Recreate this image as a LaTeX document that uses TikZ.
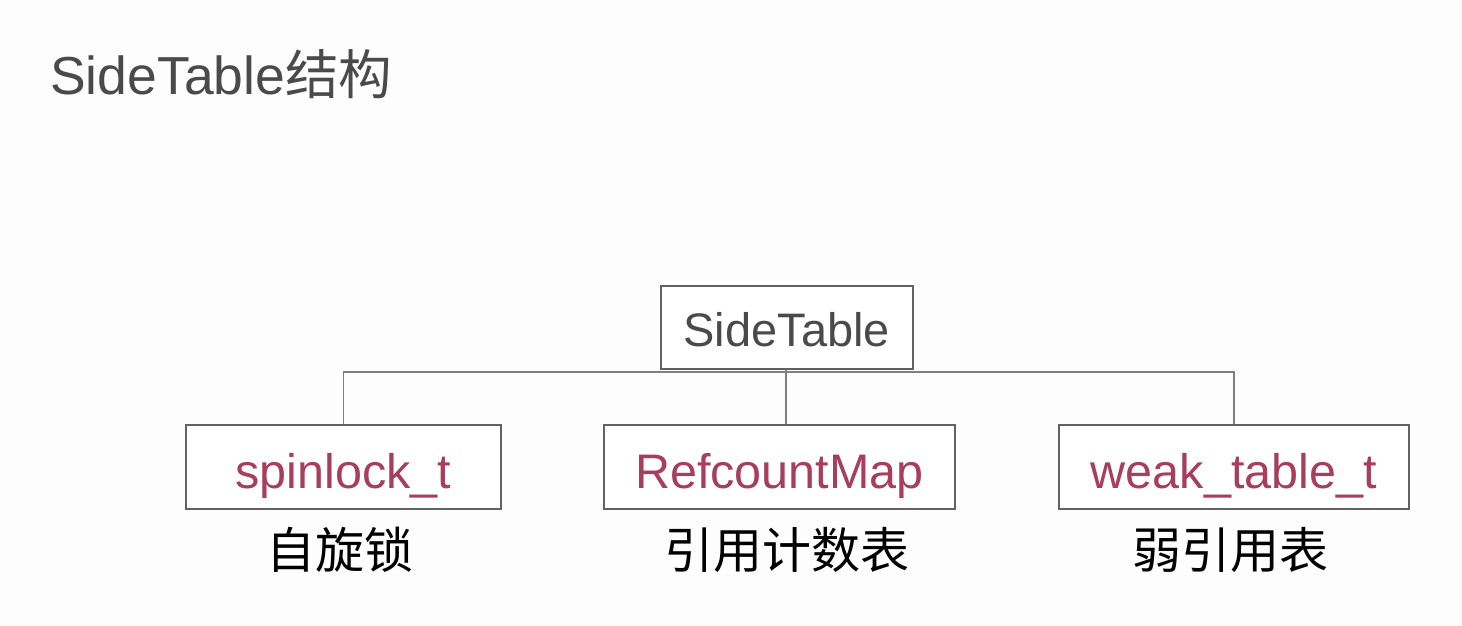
\documentclass[tikz,border=0pt]{standalone}
\usepackage{fontspec}
\setmainfont{Liberation Sans}
\setsansfont{Liberation Sans}
\newfontfamily\cjk{Noto Sans CJK SC}
\definecolor{bgc}{HTML}{FDFDFD}
\definecolor{titlec}{HTML}{4A4A4A}
\definecolor{boxline}{HTML}{626262}
\definecolor{conn}{HTML}{808080}
\definecolor{typec}{HTML}{A63E5C}
\tikzset{
  tbox/.style={draw=boxline, line width=1.7pt, fill=white, inner xsep=0pt, inner ysep=0pt,
    font=\fontsize{48.5}{56}\selectfont, anchor=north west},
  conline/.style={draw=conn, line width=1.5pt},
  cnlabel/.style={font=\cjk\fontsize{49}{56}\selectfont, text=black, inner sep=0pt},
}
\begin{document}
\begin{tikzpicture}[x=1pt,y=-1pt]
\path[fill=bgc] (0,0) rectangle (1462,626);
\useasboundingbox (0,0) rectangle (1462,626);
% title
\node[anchor=base west, inner sep=0pt, text=titlec, font=\fontsize{53.5}{60}\selectfont] (title) at (50,94) {SideTable{\cjk 结构}};
% boxes
\node[tbox, minimum width=252pt, text height=61pt, text depth=22pt, text=titlec, font=\fontsize{47}{56}\selectfont] (root) at (660,285) {SideTable};
\node[tbox, minimum width=315pt, text height=64pt, text depth=20pt, text=typec] (spin) at (185,424) {spinlock\_t};
\node[tbox, minimum width=351pt, text height=64pt, text depth=20pt, text=typec] (ref) at (603,424) {RefcountMap};
\node[tbox, minimum width=350pt, text height=64pt, text depth=20pt, text=typec] (weak) at (1058,424) {weak\_table\_t};
% connectors
\coordinate (bus) at (786,372);
\draw[conline] (root.south -| bus) -- (bus);
\draw[conline] (spin.north) |- (bus);
\draw[conline] (weak.north) |- (bus);
\draw[conline] (bus) -- (ref.north -| bus);
% labels
\node[cnlabel] (l1) at (340,550) {自旋锁};
\node[cnlabel] (l2) at (787,550) {引用计数表};
\node[cnlabel] (l3) at (1230,550) {弱引用表};
\end{tikzpicture}
\end{document}
